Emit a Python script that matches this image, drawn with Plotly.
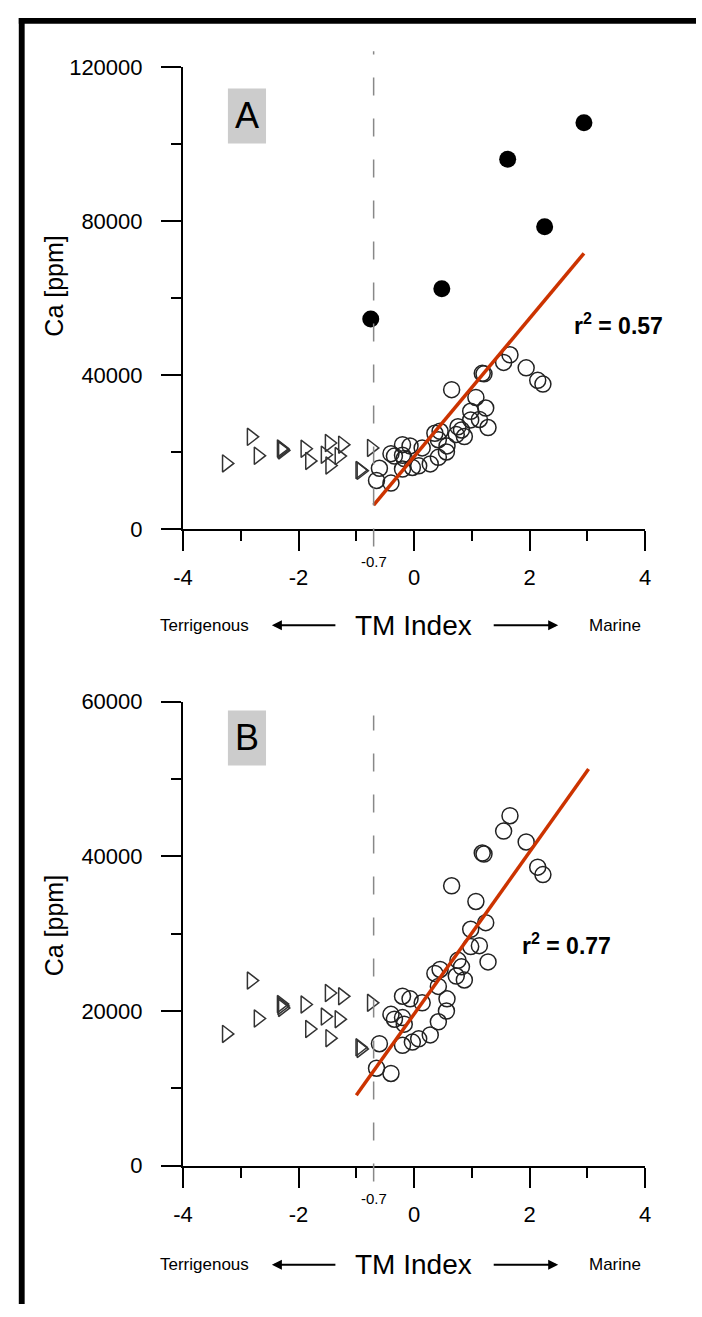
import plotly.graph_objects as go

# ---------------- data ----------------
tri_x = [-3.25, -2.82, -2.70, -2.30, -2.29, -2.28, -1.89, -1.81, -1.54, -1.47,
         -1.46, -1.30, -1.24, -0.94, -0.92, -0.74]
tri_y = [17040, 23940, 19030, 20900, 20640, 20400, 20840, 17670, 19280, 22330,
         16490, 18940, 21900, 15300, 15100, 21060]

circ_x = [-0.65, -0.40, -0.60, -0.20, -0.03, 0.08, 0.28, 0.42, 0.56, 0.57,
          0.42, -0.40, -0.34, -0.20, -0.17, -0.20, -0.07, 0.14, 0.36, 0.45,
          0.73, 0.87, 0.82, 0.76, 0.98, 1.24, 1.13, 1.28, 0.65, 1.07,
          1.18, 1.21, 1.55, 1.66, 1.94, 2.14, 2.23, 0.98]
circ_y = [12600, 11920, 15770, 15570, 15980, 16400, 16910, 18610, 20000, 21570,
          23180, 19570, 18940, 19150, 18300, 21910, 21570, 21060, 24860, 25370,
          24520, 24010, 25710, 26550, 30570, 31420, 28450, 26350, 36190, 34160,
          40430, 40300, 43260, 45250, 41860, 38600, 37640, 28330]

filled_x = [-0.75, 0.48, 1.62, 2.26, 2.94]
filled_y = [54520, 62420, 96050, 78470, 105480]

# regression fits (slope, intercept, x-range)
fit_a = dict(slope=17970, intercept=18770, x=[-0.7, 2.94], r2="0.57")
fit_b = dict(slope=10490, intercept=19600, x=[-1.0, 3.02], r2="0.77")

threshold = -0.7
x_ticks = [-4, -2, 0, 2, 4]
x_minor = [-3, -1, 1, 3]
ya_ticks = [0, 40000, 80000, 120000]
ya_minor = [20000, 60000, 100000]
yb_ticks = [0, 20000, 40000, 60000]
yb_minor = [10000, 30000, 50000]

# ---------------- layout helpers ----------------
W, H = 702, 1317
def px(xp):
    return xp / W
def py(yp):
    return 1 - yp / H

FONT = "Liberation Sans, Arial, sans-serif"
fit_color = "#cc3300"

fig = go.Figure()

def add_panel(xa, ya, with_filled, fit):
    fig.add_trace(go.Scatter(x=tri_x, y=tri_y, mode="markers", xaxis=xa, yaxis=ya,
                             marker=dict(symbol="triangle-right-open", size=15,
                                         color="#333333", line=dict(width=1.5)),
                             showlegend=False, hoverinfo="skip"))
    fig.add_trace(go.Scatter(x=circ_x, y=circ_y, mode="markers", xaxis=xa, yaxis=ya,
                             marker=dict(symbol="circle-open", size=16,
                                         color="#222222", line=dict(width=1.5)),
                             showlegend=False, hoverinfo="skip"))
    if with_filled:
        fig.add_trace(go.Scatter(x=filled_x, y=filled_y, mode="markers", xaxis=xa, yaxis=ya,
                                 marker=dict(symbol="circle", size=17, color="black"),
                                 showlegend=False, hoverinfo="skip"))
    fx = fit["x"]
    fy = [fit["intercept"] + fit["slope"] * v for v in fx]
    fig.add_trace(go.Scatter(x=fx, y=fy, mode="lines", xaxis=xa, yaxis=ya,
                             line=dict(color=fit_color, width=3.5),
                             showlegend=False, hoverinfo="skip"))

add_panel("x", "y", True, fit_a)
add_panel("x2", "y2", False, fit_b)

xdom = [px(177), px(650)]
ydom_a = [py(527), py(56)]
ydom_b = [py(1176), py(703)]

def xaxis_cfg(anchor):
    return dict(domain=xdom, range=[-4, 4], anchor=anchor,
                tickmode="array", tickvals=x_ticks, ticktext=[str(v) for v in x_ticks],
                ticks="outside", ticklen=20, tickwidth=2, tickcolor="black",
                showline=True, linecolor="black", linewidth=2,
                showgrid=False, zeroline=False,
                tickfont=dict(family=FONT, size=22, color="black"),
                ticklabelstandoff=8,
                minor=dict(tickmode="array", tickvals=x_minor, ticks="outside",
                           ticklen=10, tickwidth=2, tickcolor="black", showgrid=False))

def yaxis_cfg(anchor, dom, rng, ticks, minor):
    return dict(domain=dom, range=rng, anchor=anchor,
                tickmode="array", tickvals=ticks, ticktext=[str(v) for v in ticks],
                ticks="outside", ticklen=20, tickwidth=2, tickcolor="black",
                showline=True, linecolor="black", linewidth=2,
                showgrid=False, zeroline=False,
                tickfont=dict(family=FONT, size=22, color="black"),
                ticklabelstandoff=14,
                minor=dict(tickmode="array", tickvals=minor, ticks="outside",
                           ticklen=10, tickwidth=2, tickcolor="black", showgrid=False))

fig.update_layout(
    width=W, height=H, autosize=False,
    margin=dict(l=0, r=0, t=0, b=0, pad=0),
    paper_bgcolor="white", plot_bgcolor="white",
    showlegend=False,
    font=dict(family=FONT, color="black"),
    xaxis=xaxis_cfg("y"),
    yaxis=yaxis_cfg("x", ydom_a, [0, 120000], ya_ticks, ya_minor),
    xaxis2=xaxis_cfg("y2"),
    yaxis2=yaxis_cfg("x2", ydom_b, [0, 60000], yb_ticks, yb_minor),
)

shapes = []
annotations = []

# dashed threshold lines
for xr, yr, y0, y1 in [("x", "y domain", -0.038, 1.034), ("x2", "y2 domain", -0.034, 0.97)]:
    shapes.append(dict(type="line", xref=xr, yref=yr, x0=threshold, x1=threshold,
                       y0=y0, y1=y1, line=dict(color="#888888", width=1.5, dash="18px,23px")))

# frame border
shapes.append(dict(type="rect", xref="paper", yref="paper", x0=px(9), x1=1.0,
                   y0=py(12), y1=py(6), fillcolor="black", line=dict(width=0)))
shapes.append(dict(type="rect", xref="paper", yref="paper", x0=px(9), x1=px(15),
                   y0=0.0, y1=py(6), fillcolor="black", line=dict(width=0)))

# letter boxes
for (letter, top, bot) in [("A", 78, 134), ("B", 712, 768)]:
    shapes.append(dict(type="rect", xref="paper", yref="paper", x0=px(223), x1=px(262),
                       y0=py(bot), y1=py(top), fillcolor="#cccccc", line=dict(width=0),
                       layer="below"))
    annotations.append(dict(text=letter, xref="paper", yref="paper", x=px(242.5),
                            y=py((top + bot) / 2), showarrow=False, xanchor="center",
                            yanchor="middle", font=dict(size=36, family=FONT, color="black")))

# r^2 labels
for fit, cx, cy in [(fit_a, 623, 318), (fit_b, 569, 950)]:
    annotations.append(dict(text="<b>r<sup>2</sup> = " + fit["r2"] + "</b>", xref="paper",
                            yref="paper", x=px(cx), y=py(cy), showarrow=False,
                            xanchor="center", yanchor="middle",
                            font=dict(size=23, family=FONT, color="black")))

# axis texts per panel
for axis_y, ytitle_c, ty, xr in [(527, 279, 625, "x"), (1176, 931, 1277, "x2")]:
    annotations.append(dict(text="Ca [ppm]", xref="paper", yref="paper", x=px(45),
                            y=py(ytitle_c), textangle=-90, showarrow=False,
                            xanchor="center", yanchor="middle",
                            font=dict(size=25, family=FONT, color="black")))
    annotations.append(dict(text="-0.7", xref=xr, yref="paper", x=threshold,
                            y=py(axis_y + 33), showarrow=False, xanchor="center",
                            yanchor="middle", font=dict(size=15, family=FONT, color="black")))
    annotations.append(dict(text="TM Index", xref="paper", yref="paper", x=px(413),
                            y=py(ty), showarrow=False, xanchor="center", yanchor="middle",
                            font=dict(size=28, family=FONT, color="black")))
    annotations.append(dict(text="Terrigenous", xref="paper", yref="paper", x=px(199),
                            y=py(ty), showarrow=False, xanchor="center", yanchor="middle",
                            font=dict(size=17, family=FONT, color="black")))
    annotations.append(dict(text="Marine", xref="paper", yref="paper", x=px(619),
                            y=py(ty), showarrow=False, xanchor="center", yanchor="middle",
                            font=dict(size=17, family=FONT, color="black")))
    # arrows
    annotations.append(dict(text="", xref="paper", yref="paper", x=px(268), y=py(ty),
                            ax=65, ay=0, axref="pixel", ayref="pixel", showarrow=True,
                            arrowhead=2, arrowsize=1, arrowwidth=2, arrowcolor="black"))
    annotations.append(dict(text="", xref="paper", yref="paper", x=px(561), y=py(ty),
                            ax=-66, ay=0, axref="pixel", ayref="pixel", showarrow=True,
                            arrowhead=2, arrowsize=1, arrowwidth=2, arrowcolor="black"))

fig.update_layout(shapes=shapes, annotations=annotations)
fig.write_html("out.html",
               config=dict(displayModeBar=False, responsive=False),
               post_script="document.body.style.margin='0';document.body.style.padding='0';"
                           "document.body.style.overflow='hidden';"
                           "document.documentElement.style.overflow='hidden';"
                           "document.body.style.background='white';")
